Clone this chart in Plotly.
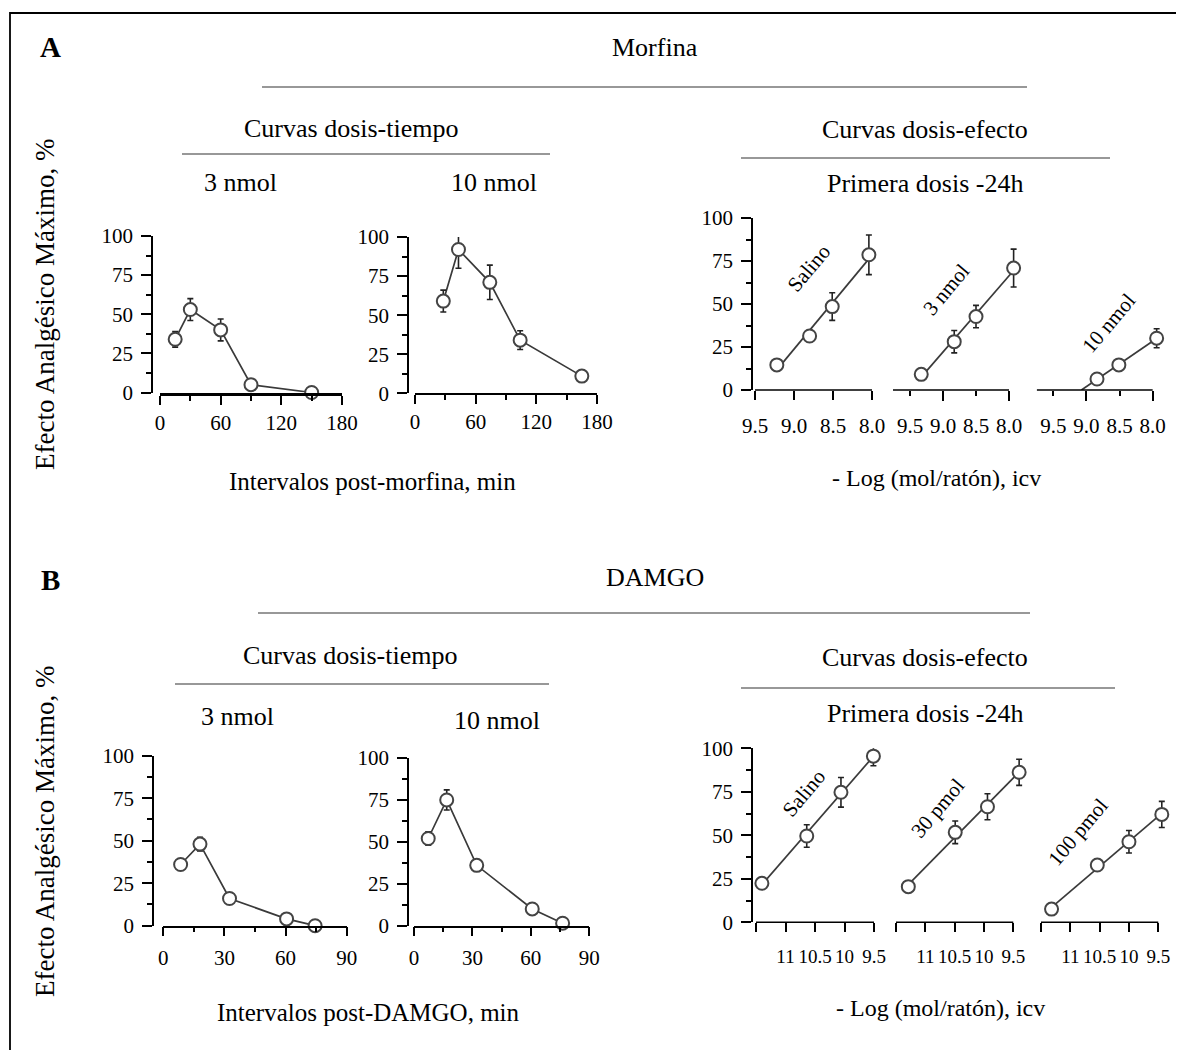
import numpy as np
import plotly.graph_objects as go

W, H = 1184, 1050
OFF = 8  # page body margin
FONT = "Liberation Serif"


def px(x):
    return (x - OFF) / W


def py(y):
    return 1 - (y - OFF) / H


# ---------------- DATA ----------------
# A - Morfina, time course (min, % effect, error)
morf_t_3 = [15, 30, 60, 90, 150]
morf_e_3 = [34, 53, 40, 5, 0]
morf_err_3 = [5, 7, 7, 0, 0]
morf_t_10 = [28, 43, 74, 104, 165]
morf_e_10 = [59, 92, 71, 34, 11]
morf_err_10 = [7, 12, 11, 6, 0]

# A - Morfina, dose-effect (-log mol/raton, % effect, error)
morf_logd_sal = [9.22, 8.80, 8.51, 8.04]
morf_eff_sal = [14.6, 31.4, 48.5, 78.6]
morf_err_sal = [0, 3, 8, 11.5]
morf_logd_3 = [9.33, 8.83, 8.50, 7.93]
morf_eff_3 = [9.1, 28.1, 42.7, 70.9]
morf_err_3n = [0, 6.5, 6.5, 11]
morf_logd_10 = [8.84, 8.51, 7.94]
morf_eff_10 = [6.4, 14.6, 30.1]
morf_err_10n = [0, 0, 5.5]

# B - DAMGO, time course
damgo_t_3 = [8.5, 18, 32.5, 60.5, 74.5]
damgo_e_3 = [36, 48, 16, 4, 0]
damgo_err_3 = [0, 4, 0, 0, 0]
damgo_t_10 = [7.3, 16.8, 32.2, 60.7, 76.3]
damgo_e_10 = [52, 75, 36, 10, 1.5]
damgo_err_10 = [4, 6, 0, 0, 0]

# B - DAMGO, dose-effect
damgo_logd_sal = [11.40, 10.64, 10.06, 9.51]
damgo_eff_sal = [22.4, 49.6, 74.7, 95.5]
damgo_err_sal = [0, 6.5, 8.5, 5.5]
damgo_logd_30 = [11.29, 10.49, 9.94, 9.40]
damgo_eff_30 = [20.5, 51.7, 66.4, 86.2]
damgo_err_30 = [2, 6.5, 7.5, 7.5]
damgo_logd_100 = [11.32, 10.54, 10.0, 9.44]
damgo_eff_100 = [7.6, 32.9, 46.3, 62.0]
damgo_err_100 = [0, 3, 6.5, 7.5]

# tick labels
time_ticks_A = [0, 60, 120, 180]
time_ticks_B = [0, 30, 60, 90]
logA_ticks = [9.5, 9.0, 8.5, 8.0]
logA_text = ["9.5", "9.0", "8.5", "8.0"]
logB_ticks = [11.5, 11, 10.5, 10, 9.5]
logB_text = ["", "11", "10.5", "10", "9.5"]
eff_ticks = [0, 25, 50, 75, 100]

LINE_C = "#3a3a3a"
MARK_C = "#444444"

fig = go.Figure()


def markers(x, y, err, ax):
    fig.add_trace(go.Scatter(
        x=x, y=y, mode="markers", xaxis="x" + ax, yaxis="y" + ax,
        cliponaxis=False,
        error_y=dict(type="data", array=err, color="#222222",
                     thickness=1.6, width=3),
        marker=dict(symbol="circle", size=13, color="white",
                    line=dict(color=MARK_C, width=2)),
        hoverinfo="x+y"))


def curve(x, y, err, ax):
    fig.add_trace(go.Scatter(
        x=x, y=y, mode="lines", xaxis="x" + ax, yaxis="y" + ax,
        cliponaxis=False, line=dict(color=LINE_C, width=1.7),
        hoverinfo="skip"))
    markers(x, y, err, ax)


def fitline(x, y, err, ax, to_zero=False):
    k, b = np.polyfit(x, y, 1)
    xs = [x[0], x[-1]]
    if to_zero:
        xs[0] = -b / k
    ys = [k * v + b for v in xs]
    fig.add_trace(go.Scatter(
        x=xs, y=ys, mode="lines", xaxis="x" + ax, yaxis="y" + ax,
        cliponaxis=False, line=dict(color=LINE_C, width=1.7),
        hoverinfo="skip"))
    markers(x, y, err, ax)


curve(morf_t_3, morf_e_3, morf_err_3, "1")
curve(morf_t_10, morf_e_10, morf_err_10, "2")
fitline(morf_logd_sal, morf_eff_sal, morf_err_sal, "3")
fitline(morf_logd_3, morf_eff_3, morf_err_3n, "4")
fitline(morf_logd_10, morf_eff_10, morf_err_10n, "5", to_zero=True)
curve(damgo_t_3, damgo_e_3, damgo_err_3, "6")
curve(damgo_t_10, damgo_e_10, damgo_err_10, "7")
fitline(damgo_logd_sal, damgo_eff_sal, damgo_err_sal, "8")
fitline(damgo_logd_30, damgo_eff_30, damgo_err_30, "9")
fitline(damgo_logd_100, damgo_eff_100, damgo_err_100, "10")
# invisible traces for overlay axes (long ticks)
for oa, ya in (("11", "4"), ("12", "5")):
    fig.add_trace(go.Scatter(x=[None], y=[None], xaxis="x" + oa,
                             yaxis="y" + ya, showlegend=False,
                             hoverinfo="skip"))

TF = dict(family=FONT, size=21, color="black")
TFB = dict(family=FONT, size=19, color="black")
layout = dict(width=W, height=H,
              margin=dict(l=0, r=0, t=0, b=0, pad=0, autoexpand=False),
              paper_bgcolor="white", plot_bgcolor="rgba(0,0,0,0)",
              showlegend=False, font=dict(family=FONT, color="black"))
shapes = []


def xax(n, x0, x1, rng, tv, tt, standoff, minor_dtick=None, ticklen=9,
        lw=1.5, line_to=None, tf=TF):
    d = dict(domain=[px(x0), px(x1)], range=rng, anchor="y" + n,
             showline=line_to is None, linecolor="black", linewidth=lw,
             ticks="outside", ticklen=ticklen, tickwidth=1.5,
             tickcolor="black", tickmode="array", tickvals=tv, ticktext=tt,
             tickfont=tf, tickangle=0, showgrid=False, zeroline=False,
             ticklabelstandoff=int(standoff), fixedrange=True,
             automargin=False)
    if minor_dtick:
        d["minor"] = dict(dtick=minor_dtick, tick0=0, ticks="outside",
                          ticklen=5, tickwidth=1.5, tickcolor="black",
                          showgrid=False)
    layout["xaxis" + ("" if n == "1" else n)] = d
    if line_to is not None:
        # axis line ends at the last tick although the range goes further
        shapes.append(dict(type="line", xref="x" + n, yref="y%s domain" % n,
                           x0=rng[0], x1=line_to, y0=0, y1=0, layer="above",
                           line=dict(color="black", width=lw)))


def yax(n, y0, y1, axis_x=None):
    d = dict(domain=[py(y1), py(y0)], range=[0, 100], showgrid=False,
             zeroline=False, fixedrange=True, automargin=False)
    if axis_x is None:
        d.update(visible=False, anchor="x" + n)
    else:
        d.update(anchor="free", position=px(axis_x), showline=True,
                 linecolor="black", linewidth=1.5, ticks="outside",
                 ticklen=10, tickwidth=1.5, tickcolor="black",
                 tickmode="array", tickvals=eff_ticks, tickfont=TF,
                 ticklabelstandoff=4,
                 minor=dict(dtick=12.5, tick0=0, ticks="outside", ticklen=5,
                            tickwidth=1.5, tickcolor="black",
                            showgrid=False))
    layout["yaxis" + ("" if n == "1" else n)] = d


# Panel A
xax("1", 160, 342, [0, 180], time_ticks_A, [str(v) for v in time_ticks_A],
    0, minor_dtick=30, lw=3)
yax("1", 236, 392.5, 152)
xax("2", 415, 597, [0, 180], time_ticks_A, [str(v) for v in time_ticks_A],
    0, minor_dtick=30)
yax("2", 237, 393.3, 408)
xax("3", 755, 879.8, [9.5, 7.9], logA_ticks, logA_text, 8, line_to=8.0)
yax("3", 218, 390, 752)
xax("4", 893, 1018.9, [9.758, 7.85], logA_ticks, logA_text, 12,
    ticklen=5, line_to=8.0)
yax("4", 218, 390)
xax("5", 1036.7, 1162.6, [9.75, 7.85], logA_ticks, logA_text, 12,
    ticklen=5, line_to=8.0)
yax("5", 218, 390)
# long ticks on overlaying axes for 9.0 and 8.0
for oa, base in (("11", "4"), ("12", "5")):
    layout["xaxis" + oa] = dict(
        overlaying="x" + base, anchor="y" + base,
        range=layout["xaxis" + base]["range"], showline=False,
        ticks="outside", ticklen=10, tickwidth=1.5, tickcolor="black",
        tickmode="array", tickvals=[9.0, 8.0], showticklabels=False,
        showgrid=False, zeroline=False, fixedrange=True, automargin=False)

# Panel B
xax("6", 163.3, 346.7, [0, 90], time_ticks_B, [str(v) for v in time_ticks_B],
    3, minor_dtick=15)
yax("6", 755.7, 925.7, 153)
xax("7", 414, 589.3, [0, 90], time_ticks_B, [str(v) for v in time_ticks_B],
    3, minor_dtick=15)
yax("7", 758, 925.7, 408)
xax("8", 756, 879.9, [11.5, 9.4], logB_ticks, logB_text, 8, line_to=9.5,
    tf=TFB)
yax("8", 748.3, 922.3, 752)
xax("9", 896, 1025, [11.5, 9.3], logB_ticks, logB_text, 8, line_to=9.5,
    tf=TFB)
yax("9", 748.3, 922.3)
xax("10", 1041, 1170, [11.5, 9.3], logB_ticks, logB_text, 8,
    line_to=9.5, tf=TFB)
yax("10", 748.3, 922.3)

fig.update_layout(**layout)

# ---------- texts ----------
ann = []


def text(x, y, s, size=26, angle=0, bold=False):
    ann.append(dict(x=px(x), y=py(y), xref="paper", yref="paper",
                    text=("<b>%s</b>" % s) if bold else s, showarrow=False,
                    textangle=angle, xanchor="center", yanchor="middle",
                    font=dict(family=FONT, size=size, color="black")))


text(51, 47, "A", size=29, bold=True)
text(655, 47, "Morfina")
text(352, 128, "Curvas dosis-tiempo")
text(925, 130, "Curvas dosis-efecto")
text(240, 182, "3 nmol")
text(494, 182, "10 nmol")
text(925, 184, "Primera dosis -24h")
text(372, 482, "Intervalos post-morfina, min", size=25)
text(936, 478, "- Log (mol/ratón), icv", size=24)
text(45, 305, "Efecto Analgésico Máximo, %", size=27, angle=-90)
text(809, 268, "Salino", size=21, angle=-50)
text(946, 290, "3 nmol", size=21, angle=-50)
text(1109, 323, "10 nmol", size=21, angle=-50)

text(51, 580, "B", size=29, bold=True)
text(655, 577, "DAMGO")
text(350, 655, "Curvas dosis-tiempo")
text(925, 657, "Curvas dosis-efecto")
text(238, 716, "3 nmol")
text(497, 720, "10 nmol")
text(925, 713, "Primera dosis -24h")
text(368, 1012, "Intervalos post-DAMGO, min", size=25)
text(940, 1008, "- Log (mol/ratón), icv", size=24)
text(45, 832, "Efecto Analgésico Máximo, %", size=27, angle=-90)
text(804, 793, "Salino", size=21, angle=-50)
text(938, 808, "30 pmol", size=21, angle=-50)
text(1078, 832, "100 pmol", size=21, angle=-50)


def hline(x0, x1, y):
    shapes.append(dict(type="line", xref="paper", yref="paper",
                       x0=px(x0), x1=px(x1), y0=py(y), y1=py(y),
                       line=dict(color="#333333", width=1.2)))


hline(262, 1027, 87)
hline(182, 550, 154)
hline(741, 1110, 158)
hline(258, 1030, 613)
hline(175, 549, 684)
hline(741, 1115, 688)
shapes.append(dict(type="rect", xref="paper", yref="paper",
                   x0=px(10), x1=px(1181), y0=py(1053), y1=py(13),
                   line=dict(color="black", width=1.8)))

fig.update_layout(annotations=ann, shapes=shapes)
fig.write_html("out.html")
